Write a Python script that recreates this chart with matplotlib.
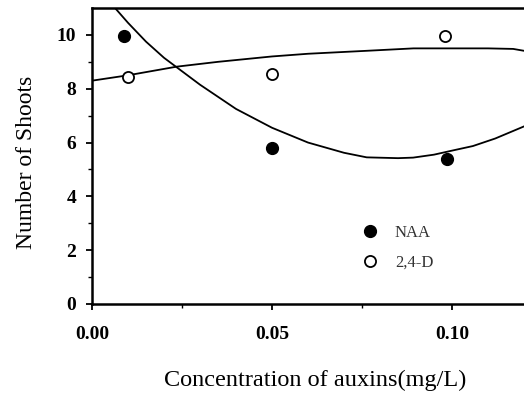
import matplotlib.pyplot as plt

# measured points
naa_x = [0.009, 0.050, 0.0985]
naa_y = [9.95, 5.8, 5.4]
d24_x = [0.010, 0.050, 0.098]
d24_y = [8.45, 8.55, 9.95]

# fitted curves
naa_fit_x = [0.0064, 0.010, 0.015, 0.020, 0.0235, 0.030, 0.040, 0.050, 0.060,
             0.070, 0.0763, 0.085, 0.0892, 0.095, 0.100, 0.1058, 0.112, 0.120]
naa_fit_y = [11.0, 10.45, 9.75, 9.15, 8.80, 8.15, 7.25, 6.55, 6.00,
             5.62, 5.45, 5.42, 5.44, 5.55, 5.70, 5.87, 6.15, 6.60]
d24_fit_x = [0.000, 0.010, 0.0235, 0.035, 0.050, 0.060, 0.0763, 0.0893, 0.100, 0.110, 0.117, 0.120]
d24_fit_y = [8.30, 8.50, 8.82, 9.00, 9.20, 9.30, 9.41, 9.50, 9.50, 9.50, 9.48, 9.41]

xticks = [0.00, 0.05, 0.10]
yticks = [0, 2, 4, 6, 8, 10]

plt.rcParams["font.family"] = ["Liberation Serif", "DejaVu Serif"]

fig = plt.figure(figsize=(5.24, 3.95), dpi=100)
ax = fig.add_axes([0.1756, 0.2304, 0.8244, 0.7493])

ax.plot(naa_fit_x, naa_fit_y, color="black", lw=1.3)
ax.plot(d24_fit_x, d24_fit_y, color="black", lw=1.3)
ax.plot(naa_x, naa_y, "o", color="black", ms=8.5, label="NAA")
ax.plot(d24_x, d24_y, "o", mfc="white", mec="black", mew=1.3, ms=8, label="2,4-D")

ax.set_xlim(0, 0.12)
ax.set_ylim(0, 11)
ax.set_xticks(xticks)
ax.set_xticklabels([f"{v:.2f}" for v in xticks], fontweight="bold", fontsize=14)
ax.set_yticks(yticks)
ax.set_yticklabels([str(v) for v in yticks], fontweight="bold", fontsize=14)
ax.set_xticks([0.025, 0.075], minor=True)
ax.set_yticks([1, 3, 5, 7, 9], minor=True)
ax.tick_params(which="major", direction="out", length=4.5, width=1.3)
ax.tick_params(axis="x", which="major", pad=11)
ax.tick_params(axis="y", which="major", pad=7)
ax.tick_params(which="minor", direction="out", length=3, width=1)
ax.spines["right"].set_visible(False)
for s in ("left", "bottom", "top"):
    ax.spines[s].set_linewidth(1.8)

ax.set_ylabel("Number of Shoots", fontsize=17, va="center", ha="center")
ax.yaxis.set_label_coords(-0.152, 0.48)
ax.set_xlabel("Concentration of auxins(mg/L)", fontsize=17.5, va="center", ha="center")
ax.xaxis.set_label_coords(0.516, -0.257)

ax.legend(loc="center left", bbox_to_anchor=(0.57, 0.19), frameon=False,
          fontsize=12, handletextpad=0.5, labelspacing=0.8, labelcolor="#333333")

fig.savefig("out.png", dpi=100)
